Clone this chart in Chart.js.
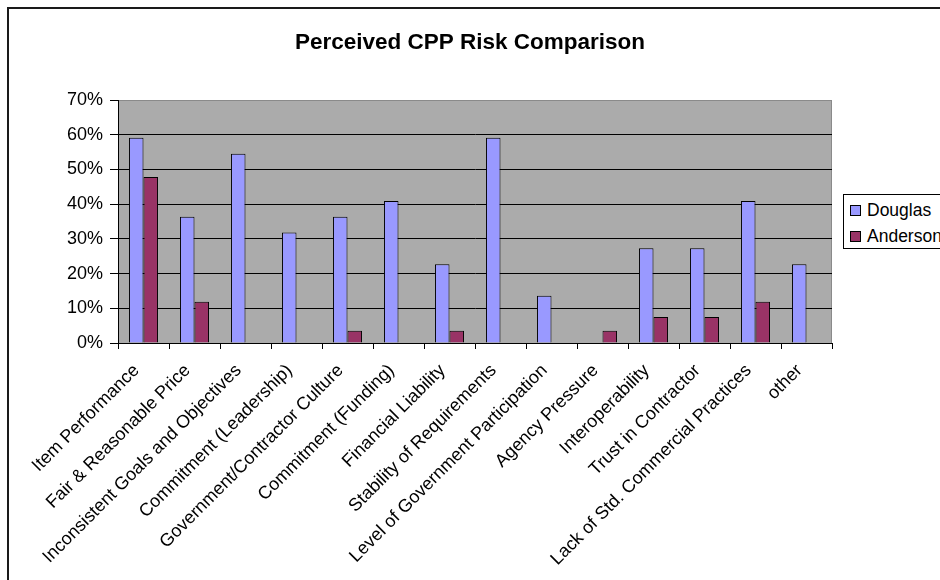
<!DOCTYPE html>
<html>
<head>
<meta charset="utf-8">
<script src="https://cdn.jsdelivr.net/npm/chart.js@4/dist/chart.umd.min.js"></script>
<style>
  html, body { margin: 0; padding: 0; background: #fff; }
  body { width: 940px; height: 580px; overflow: hidden; position: relative; }
  #frame { position: absolute; left: 7px; top: 7px; width: 1000px; height: 1000px;
           border-left: 2px solid #1a1a1a; border-top: 2px solid #1a1a1a; }
  #wrap { position: absolute; left: 0; top: 0; width: 940px; height: 580px; }
  #legend { position: absolute; left: 843px; top: 194px; width: 120px; height: 53px;
            border: 1px solid #000; background: #fff;
            font: 17.5px "Liberation Sans", Arial, sans-serif; color: #000; }
  #legend .item { position: absolute; left: 6px; height: 20px; line-height: 20px; white-space: nowrap; }
  #legend .sw { display: inline-block; width: 9px; height: 9px; border: 1px solid #000;
                vertical-align: middle; margin-right: 6px; position: relative; top: -1px; }
</style>
</head>
<body>
<div id="frame"></div>
<div id="wrap"><canvas id="chart"></canvas></div>
<div id="legend"></div>
<script>
// Risk categories on the x axis
const categories = [
  'Item Performance',
  'Fair & Reasonable Price',
  'Inconsistent Goals and Objectives',
  'Commitment (Leadership)',
  'Government/Contractor Culture',
  'Commitment (Funding)',
  'Financial Liability',
  'Stability of Requirements',
  'Level of Government Participation',
  'Agency Pressure',
  'Interoperability',
  'Trust in Contractor',
  'Lack of Std. Commercial Practices',
  'other'
];

// Share of respondents (percent) citing each risk
const douglas  = [59.1, 36.4, 54.5, 31.8, 36.4, 40.9, 22.7, 59.1, 13.6, 0, 27.3, 27.3, 40.9, 22.7];
const anderson = [47.8, 11.9, 0, 0, 3.5, 0, 3.5, 0, 0, 3.5, 7.5, 7.5, 11.9, 0];

const seriesNames = ['Douglas', 'Anderson'];
const yTicks = [0, 10, 20, 30, 40, 50, 60, 70];

const FONT = '"Liberation Sans", Arial, sans-serif';

// Gray plot-area fill with a light outline on the top and right edges
const plotBackground = {
  id: 'plotBackground',
  beforeDraw(chart) {
    const { ctx, chartArea: a } = chart;
    ctx.save();
    ctx.fillStyle = '#ababab';
    ctx.fillRect(a.left, a.top, a.right - a.left, a.bottom - a.top);
    ctx.strokeStyle = '#8a8a8a';
    ctx.lineWidth = 1;
    ctx.beginPath();
    ctx.moveTo(a.left, a.top + 0.5);
    ctx.lineTo(a.right - 0.5, a.top + 0.5);
    ctx.lineTo(a.right - 0.5, a.bottom);
    ctx.stroke();
    ctx.restore();
  }
};

const chart = new Chart(document.getElementById('chart'), {
  type: 'bar',
  data: {
    labels: categories,
    datasets: [
      { label: seriesNames[0], data: douglas, backgroundColor: '#9999ff' },
      { label: seriesNames[1], data: anderson, backgroundColor: '#993366' }
    ].map(d => Object.assign(d, {
      borderColor: '#000',
      borderWidth: ctx => (ctx.raw ? 1 : 0),
      categoryPercentage: 0.57,
      barPercentage: 1.0
    }))
  },
  options: {
    responsive: true,
    maintainAspectRatio: false,
    animation: false,
    layout: { padding: 0 },
    plugins: {
      legend: { display: false },
      tooltip: { enabled: false },
      title: {
        display: true,
        text: 'Perceived CPP Risk Comparison',
        color: '#000',
        font: { family: FONT, size: 22.5, weight: 'bold' },
        padding: { top: 29, bottom: 44 }
      }
    },
    scales: {
      x: {
        offset: true,
        grid: { display: true, drawOnChartArea: false, drawTicks: true, tickLength: 6, color: '#000', offset: true },
        border: { display: true, color: '#000', width: 1 },
        ticks: {
          autoSkip: false, minRotation: 45, maxRotation: 45, padding: 11, labelOffset: -7,
          color: '#000', font: { family: FONT, size: 18 }
        },
        afterFit: s => { s.height = 237; }
      },
      y: {
        min: 0, max: 70,
        afterBuildTicks: s => { s.ticks = yTicks.map(v => ({ value: v })); },
        grid: {
          color: ctx => (ctx.tick && ctx.tick.value === 70 ? '#8a8a8a' : '#000'),
          tickColor: '#000', tickLength: 8, lineWidth: 1
        },
        border: { display: true, color: '#000', width: 1 },
        ticks: {
          padding: 7, color: '#000', font: { family: FONT, size: 18 },
          callback: v => v + '%'
        },
        afterFit: s => { s.width = 118; }
      },
      pad: {
        type: 'linear', position: 'right', display: true,
        grid: { display: false, drawTicks: false }, border: { display: false },
        ticks: { display: false },
        afterFit: s => { s.width = 108; }
      }
    }
  },
  plugins: [plotBackground]
});

// Legend built from the chart's own datasets
const legend = document.getElementById('legend');
chart.data.datasets.forEach((ds, i) => {
  const item = document.createElement('div');
  item.className = 'item';
  item.style.top = (5 + i * 26) + 'px';
  const sw = document.createElement('span');
  sw.className = 'sw';
  sw.style.background = ds.backgroundColor;
  item.appendChild(sw);
  item.appendChild(document.createTextNode(ds.label));
  legend.appendChild(item);
});
</script>
</body>
</html>
